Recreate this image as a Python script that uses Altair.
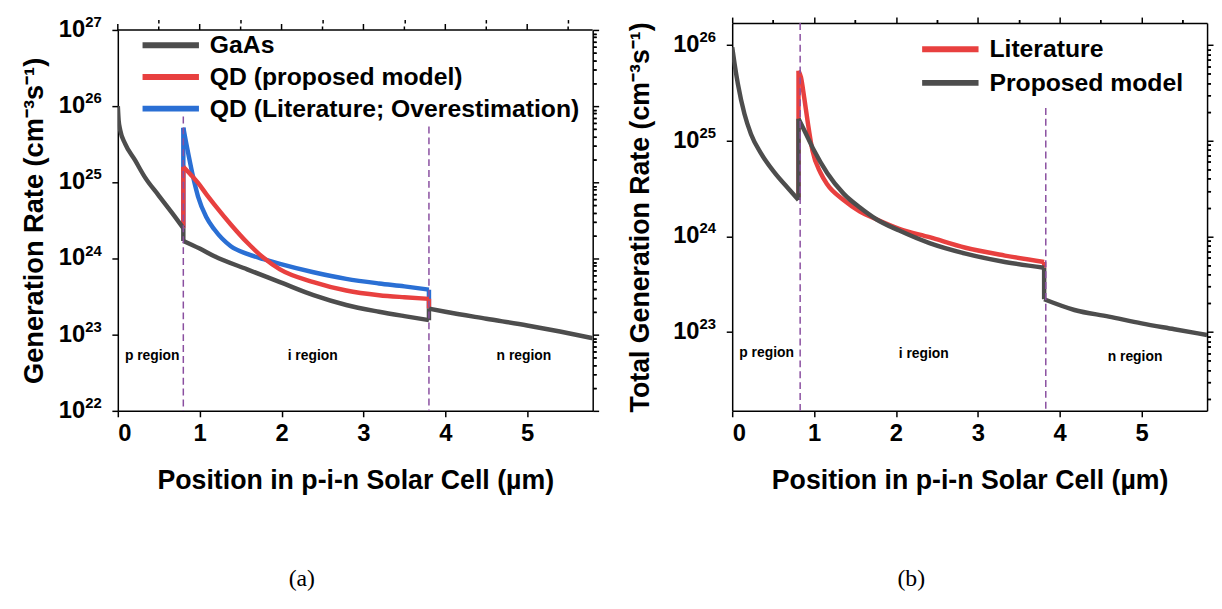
import altair as alt
import pandas as pd

# ---------------- Panel (a) data ----------------
a_gaas_x = [0.00, 0.01, 0.03, 0.09, 0.21, 0.33, 0.50, 0.66, 0.80, 0.80, 1.00, 1.18, 1.58, 1.98,
            2.39, 2.79, 3.19, 3.50, 3.80, 3.80, 4.00, 4.50, 5.00, 5.40, 5.80]
a_gaas_y = [1.0e26, 6.5e25, 4.8e25, 3.2e25, 1.95e25, 1.17e25, 6.7e24, 4.0e24, 2.5e24, 1.7e24, 1.35e24,
            1.07e24, 7.2e23, 4.9e23, 3.3e23, 2.45e23, 2.0e23, 1.75e23, 1.55e23, 2.2e23, 2.0e23,
            1.62e23, 1.32e23, 1.1e23, 9.0e22]

a_qdp_x = [0.80, 0.80, 0.90, 0.98, 1.08, 1.18, 1.38, 1.58, 1.78, 1.98, 2.39, 2.79, 3.19, 3.50, 3.80, 3.80]
a_qdp_y = [2.5e24, 1.6e25, 1.23e25, 9.8e24, 7.0e24, 5.1e24, 2.8e24, 1.62e24, 1.02e24, 7.2e23, 4.9e23,
           3.8e23, 3.3e23, 3.1e23, 2.95e23, 2.2e23]

a_qdl_x = [0.80, 0.80, 0.83, 0.86, 0.92, 0.98, 1.08, 1.18, 1.38, 1.58, 1.78, 1.98, 2.39, 2.79, 3.19,
           3.50, 3.80, 3.80]
a_qdl_y = [2.5e24, 5.2e25, 3.5e25, 2.4e25, 1.17e25, 6.5e24, 3.5e24, 2.4e24, 1.45e24, 1.15e24, 9.8e23,
           8.5e23, 6.6e23, 5.4e23, 4.7e23, 4.3e23, 3.9e23, 2.2e23]

a_names = ["GaAs", "QD (proposed model)", "QD (Literature; Overestimation)"]
a_colors = ["#4D4D4D", "#E8403F", "#2A6FD4"]
a_div_x = [0.8, 3.8]
a_div_top = [7.3e25, 5.4e25]
a_region_x = [0.42, 2.38, 4.96]
a_region_y = [5.3e22, 5.2e22, 5.2e22]
a_ydomain = [1e22, 1e27]
a_ytick = [1e22, 1e23, 1e24, 1e25, 1e26, 1e27]
a_yexp = ["22", "23", "24", "25", "26", "27"]

# ---------------- Panel (b) data ----------------
b_prop_x = [0.00, 0.03, 0.07, 0.15, 0.23, 0.35, 0.52, 0.68, 0.81, 0.81, 0.88, 1.00, 1.16, 1.36, 1.56,
            1.76, 2.04, 2.41, 2.85, 3.33, 3.81, 3.81, 4.18, 4.60, 5.00, 5.40, 5.80]
b_prop_y = [9.5e25, 6.3e25, 3.9e25, 1.9e25, 1.17e25, 7.4e24, 4.6e24, 3.2e24, 2.4e24, 1.7e25, 1.29e25,
            7.9e24, 4.6e24, 2.8e24, 2.0e24, 1.51e24, 1.15e24, 8.5e23, 6.6e23, 5.4e23, 4.7e23, 2.2e23,
            1.7e23, 1.45e23, 1.23e23, 1.07e23, 9.3e22]

b_lit_x = [0.81, 0.81, 0.84, 0.88, 0.92, 0.98, 1.08, 1.16, 1.36, 1.56, 1.76, 2.04, 2.41, 2.85, 3.33,
           3.81, 3.81]
b_lit_y = [2.4e24, 5.4e25, 4.6e25, 2.8e25, 1.62e25, 7.9e24, 4.6e24, 3.5e24, 2.4e24, 1.82e24, 1.51e24,
           1.2e24, 9.8e23, 7.6e23, 6.3e23, 5.4e23, 4.7e23]

b_names = ["Literature", "Proposed model"]
b_colors = ["#E8403F", "#4D4D4D"]
b_div_x = [0.83, 3.83]
b_div_top = [1.7e26, 2.2e25]
b_region_x = [0.42, 2.34, 4.92]
b_region_y = [6.0e22, 5.9e22, 5.5e22]
b_ydomain = [1.5e22, 1.7e26]
b_ytick = [1e23, 1e24, 1e25, 1e26]
b_yexp = ["23", "24", "25", "26"]

region_names = ["p region", "i region", "n region"]
x_major = [0, 1, 2, 3, 4, 5]
x_minor = [0.5, 1.5, 2.5, 3.5, 4.5, 5.5]
x_domain = [0, 5.8]
captions = ["(a)", "(b)"]

FONT = "Liberation Sans"
W = 480
H = 392


def minor_vals(lo, hi):
    out = []
    for e in range(21, 28):
        for m in range(2, 10):
            v = m * 10.0 ** e
            if lo < v < hi:
                out.append(v)
    return out


def sdf(xs, ys, name):
    """Split a series into continuous pieces and vertical jumps (same x twice)."""
    rows = []
    seg = 0
    n = 0
    for k in range(len(xs)):
        if k > 0 and xs[k] == xs[k - 1]:
            seg += 1
            rows.append((xs[k - 1], ys[k - 1], seg, n)); n += 1
            rows.append((xs[k], ys[k], seg, n)); n += 1
            seg += 1
        rows.append((xs[k], ys[k], seg, n)); n += 1
    d = pd.DataFrame(rows, columns=["x", "y", "seg", "i"])
    d["series"] = name
    return d


def panel(series, names, colors, ydomain, ytick, yexp, top_inset, ytitle, ytitle_size, ytitle_pad,
          lx, ly, rowpad, div_x, div_top, reg_x, reg_y, caption, cap_x, cap_y):
    xs = alt.Scale(domain=x_domain, nice=False, zero=False)
    ys = alt.Scale(type="log", domain=ydomain, nice=False, range=[H, top_inset])
    legend = alt.Legend(orient="none", legendX=lx, legendY=ly, title=None, symbolType="stroke",
                        symbolStrokeWidth=6, symbolSize=3249, clipHeight=25, rowPadding=rowpad,
                        labelFontSize=25, labelFontWeight="bold", labelFont=FONT, labelOffset=8,
                        labelLimit=700, padding=0, labelColor="black")
    color = alt.Color("series:N", scale=alt.Scale(domain=names, range=colors), legend=legend)

    layers = []
    for k, (xv, yv, nm) in enumerate(series):
        d = sdf(xv, yv, nm)
        if k == 0:
            xenc = alt.X("x:Q", scale=xs, axis=alt.Axis(
                values=x_major, format="d", labelFontSize=24, labelFontWeight="bold",
                labelPadding=5, tickSize=6, title="Position in p-i-n Solar Cell (µm)",
                titleFontSize=27, titleFontWeight="bold", titlePadding=22))
            yenc = alt.Y("y:Q", scale=ys, axis=alt.Axis(
                values=ytick, labels=False, tickSize=6, title=ytitle, titleFontSize=ytitle_size,
                titleFontWeight="bold", titlePadding=ytitle_pad))
        else:
            xenc = alt.X("x:Q", scale=xs, axis=None)
            yenc = alt.Y("y:Q", scale=ys, axis=None)
        layers.append(alt.Chart(d).mark_line(strokeWidth=4.5, clip=True, interpolate="monotone").encode(
            x=xenc, y=yenc, color=color, detail="seg:N", order=alt.Order("i:Q")))

    allx = sum([list(s[0]) for s in series], [])
    ally = sum([list(s[1]) for s in series], [])
    base = pd.DataFrame({"x": allx, "y": ally})
    yminor = minor_vals(ydomain[0], ydomain[1])
    use_top_axis = top_inset == 0

    # minor ticks bottom/left
    layers.append(alt.Chart(base).mark_point(opacity=0).encode(
        x=alt.X("x:Q", scale=xs, axis=alt.Axis(values=x_minor, labels=False, tickSize=3.5,
                                                domain=False, title=None)),
        y=alt.Y("y:Q", scale=ys, axis=alt.Axis(values=yminor, labels=False, tickSize=3.5,
                                                domain=False, title=None))))
    # major ticks top/right
    layers.append(alt.Chart(base).mark_point(opacity=0).encode(
        x=alt.X("x:Q", scale=xs, axis=alt.Axis(orient="top", values=x_major, labels=False,
                                                tickSize=6, title=None) if use_top_axis else None),
        y=alt.Y("y:Q", scale=ys, axis=alt.Axis(orient="right", values=ytick, labels=False,
                                                tickSize=6, title=None))))
    # minor ticks top/right
    layers.append(alt.Chart(base).mark_point(opacity=0).encode(
        x=alt.X("x:Q", scale=xs, axis=alt.Axis(orient="top", values=x_minor, labels=False,
                                                tickSize=3.5, domain=False, title=None)
                if use_top_axis else None),
        y=alt.Y("y:Q", scale=ys, axis=alt.Axis(orient="right", values=yminor, labels=False,
                                                tickSize=3.5, domain=False, title=None))))

    if not use_top_axis:
        # top frame edge at the top of the y domain, with outward ticks
        fd = pd.DataFrame({"x": [x_domain[0]], "x2": [x_domain[1]], "y": [ydomain[1]]})
        layers.append(alt.Chart(fd).mark_rule(color="black", strokeWidth=1.5).encode(
            x=alt.X("x:Q", scale=xs, axis=None), x2="x2:Q", y=alt.Y("y:Q", scale=ys, axis=None)))
        tmaj = pd.DataFrame({"x": x_major, "y": [ydomain[1]] * len(x_major)})
        layers.append(alt.Chart(tmaj).mark_tick(orient="vertical", size=6, thickness=1.5, color="black",
                                                yOffset=-3, opacity=1).encode(
            x=alt.X("x:Q", scale=xs, axis=None), y=alt.Y("y:Q", scale=ys, axis=None)))
        tmin = pd.DataFrame({"x": x_minor, "y": [ydomain[1]] * len(x_minor)})
        layers.append(alt.Chart(tmin).mark_tick(orient="vertical", size=3.5, thickness=1.5, color="black",
                                                yOffset=-1.75, opacity=1).encode(
            x=alt.X("x:Q", scale=xs, axis=None), y=alt.Y("y:Q", scale=ys, axis=None)))

    # dashed region dividers
    dd = pd.DataFrame({"x": div_x, "top": div_top, "bot": [ydomain[0]] * len(div_x)})
    layers.append(alt.Chart(dd).mark_rule(color="#8A4FA0", strokeWidth=1.5, strokeDash=[7, 4]).encode(
        x=alt.X("x:Q", scale=xs, axis=None),
        y=alt.Y("top:Q", scale=ys, axis=None), y2="bot:Q"))

    # region labels
    rd = pd.DataFrame({"x": reg_x, "y": reg_y, "t": region_names})
    layers.append(alt.Chart(rd).mark_text(font=FONT, fontSize=14, fontWeight="bold", color="black").encode(
        x=alt.X("x:Q", scale=xs, axis=None), y=alt.Y("y:Q", scale=ys, axis=None), text="t:N"))

    # y tick labels 10^n
    td = pd.DataFrame({"v": ytick, "b": ["10"] * len(ytick), "e": yexp})
    layers.append(alt.Chart(td).mark_text(font=FONT, fontSize=24, fontWeight="bold", align="right",
                                          baseline="middle", color="black").encode(
        x=alt.value(-33), y=alt.Y("v:Q", scale=ys, axis=None), text="b:N"))
    layers.append(alt.Chart(td).mark_text(font=FONT, fontSize=15, fontWeight="bold", align="left",
                                          baseline="middle", dy=-8, color="black").encode(
        x=alt.value(-33), y=alt.Y("v:Q", scale=ys, axis=None), text="e:N"))

    # caption
    cd = pd.DataFrame({"t": [caption]})
    layers.append(alt.Chart(cd).mark_text(font="Liberation Serif", fontSize=24, color="black",
                                          baseline="middle").encode(
        x=alt.value(cap_x), y=alt.value(cap_y), text="t:N"))

    return alt.layer(*layers).resolve_scale(x="shared", y="shared").resolve_axis(
        x="independent", y="independent").properties(width=W, height=H)


pa = panel([(a_qdl_x, a_qdl_y, a_names[2]), (a_qdp_x, a_qdp_y, a_names[1]), (a_gaas_x, a_gaas_y, a_names[0])],
           a_names, a_colors, a_ydomain, a_ytick, a_yexp, 7, "Generation Rate (cm⁻³s⁻¹)", 27.5, 63,
           22, 10, 6, a_div_x, a_div_top, a_region_x, a_region_y, captions[0], 186, 562)

pb = panel([(b_lit_x, b_lit_y, b_names[0]), (b_prop_x, b_prop_y, b_names[1])],
           b_names, b_colors, b_ydomain, b_ytick, b_yexp, 0, "Total Generation Rate (cm⁻³s⁻¹)", 27, 72,
           189, 14, 8, b_div_x, b_div_top, b_region_x, b_region_y, captions[1], 181, 562)

chart = alt.hconcat(pa, pb, spacing=141, bounds="flush").resolve_scale(color="independent").configure_view(
    stroke=None).configure_axis(
    domainColor="black", domainWidth=1.5, tickColor="black", tickWidth=1.5, labelColor="black",
    titleColor="black", labelFont=FONT, titleFont=FONT, grid=False).properties(
    padding={"left": 13, "top": 4, "right": 0, "bottom": 5}, background="white")

chart.save("out.html", embed_options={"renderer": "svg", "actions": False})
